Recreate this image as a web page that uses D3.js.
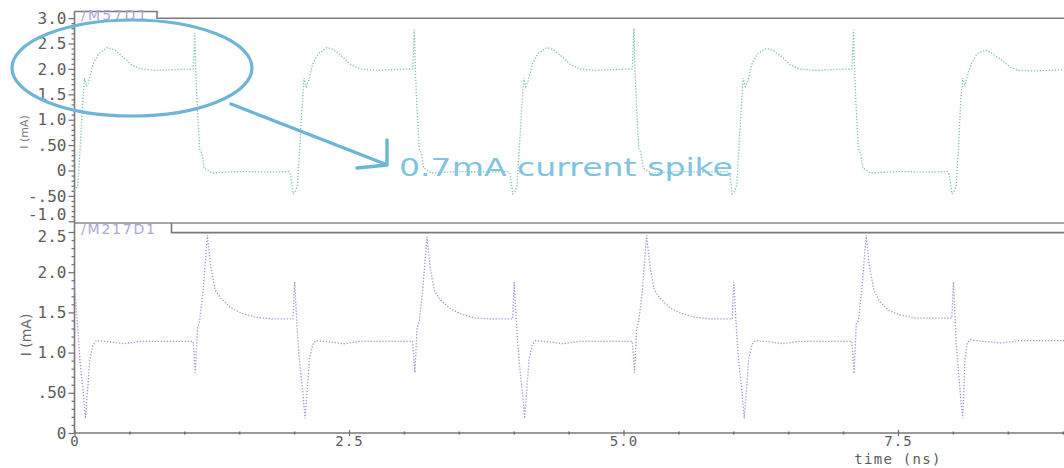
<!DOCTYPE html>
<html>
<head>
<meta charset="utf-8">
<script src="https://cdn.jsdelivr.net/npm/d3@7"></script>
<style>
  html, body { margin: 0; padding: 0; background: #ffffff; }
  svg { display: block; }
  .tick text { font-family: "DejaVu Sans Mono", monospace; }
</style>
</head>
<body>
<svg id="chart" width="1064" height="468"></svg>
<script>
// ---- Transient simulation: drain currents of M57 and M217 (mA vs ns) ----

// Panel names
const panelNames = ["/M57D1", "/M217D1"];

// M57 drain current
const m57Time = [
  0.00, 0.03, 0.05, 0.07, 0.09, 0.11, 0.13, 0.17, 0.22, 0.30, 0.36, 0.44, 0.52, 0.60, 0.75, 0.95, 1.08, 1.095, 1.105, 1.12, 1.14, 1.16, 1.18, 1.25, 1.50, 1.80, 1.95, 1.97, 1.99,
  2.01, 2.03, 2.05, 2.07, 2.09, 2.11, 2.13, 2.17, 2.22, 2.30, 2.36, 2.44, 2.52, 2.60, 2.75, 2.95, 3.08, 3.095, 3.105, 3.12, 3.14, 3.16, 3.18, 3.25, 3.50, 3.80, 3.95, 3.97, 3.99,
  4.01, 4.03, 4.05, 4.07, 4.09, 4.11, 4.13, 4.17, 4.22, 4.30, 4.36, 4.44, 4.52, 4.60, 4.75, 4.95, 5.08, 5.095, 5.105, 5.12, 5.14, 5.16, 5.18, 5.25, 5.50, 5.80, 5.95, 5.97, 5.99,
  6.01, 6.03, 6.05, 6.07, 6.09, 6.11, 6.13, 6.17, 6.22, 6.30, 6.36, 6.44, 6.52, 6.60, 6.75, 6.95, 7.08, 7.095, 7.105, 7.12, 7.14, 7.16, 7.18, 7.25, 7.50, 7.80, 7.95, 7.97, 7.99,
  8.01, 8.03, 8.05, 8.07, 8.09, 8.11, 8.13, 8.17, 8.22, 8.30, 8.36, 8.44, 8.52, 8.60, 8.75, 8.95, 9.02
];
const m57Current = [
  -0.40, -0.30, 0.40, 1.15, 1.82, 1.65, 1.75, 2.10, 2.30, 2.42, 2.38, 2.24, 2.08, 2.00, 1.97, 1.99, 2.00, 2.71, 1.90, 1.20, 0.42, 0.34, 0.05, -0.05, -0.02, -0.03, -0.02, -0.10, -0.46,
  -0.42, -0.30, 0.40, 1.15, 1.82, 1.65, 1.75, 2.10, 2.30, 2.42, 2.38, 2.24, 2.08, 2.00, 1.97, 1.99, 2.00, 2.77, 1.90, 1.20, 0.42, 0.34, 0.05, -0.05, -0.02, -0.03, -0.02, -0.10, -0.46,
  -0.42, -0.30, 0.40, 1.15, 1.82, 1.65, 1.75, 2.10, 2.30, 2.42, 2.38, 2.24, 2.08, 2.00, 1.97, 1.99, 2.00, 2.80, 1.90, 1.20, 0.42, 0.34, 0.05, -0.05, -0.02, -0.03, -0.02, -0.10, -0.46,
  -0.42, -0.30, 0.40, 1.15, 1.82, 1.65, 1.75, 2.10, 2.30, 2.40, 2.37, 2.24, 2.08, 2.00, 1.97, 1.99, 2.00, 2.77, 1.90, 1.20, 0.42, 0.34, 0.05, -0.05, -0.02, -0.03, -0.02, -0.10, -0.46,
  -0.42, -0.30, 0.40, 1.33, 1.82, 1.65, 1.85, 2.11, 2.30, 2.37, 2.30, 2.18, 2.04, 1.97, 1.96, 1.98, 1.98
];

// M217 drain current
const m217Time = [
  0.00, 0.03, 0.05, 0.08, 0.10, 0.12, 0.14, 0.17, 0.20, 0.35, 0.45, 0.60, 0.90, 1.08, 1.10, 1.12, 1.14, 1.17, 1.21, 1.24, 1.28, 1.33, 1.42, 1.52, 1.65, 1.80, 1.99,
  2.005, 2.03, 2.05, 2.08, 2.10, 2.12, 2.14, 2.17, 2.20, 2.35, 2.45, 2.60, 2.90, 3.08, 3.10, 3.12, 3.14, 3.17, 3.21, 3.24, 3.28, 3.33, 3.42, 3.52, 3.65, 3.80, 3.99,
  4.005, 4.03, 4.05, 4.08, 4.10, 4.12, 4.14, 4.17, 4.20, 4.35, 4.45, 4.60, 4.90, 5.08, 5.10, 5.12, 5.14, 5.17, 5.21, 5.24, 5.28, 5.33, 5.42, 5.52, 5.65, 5.80, 5.99,
  6.005, 6.03, 6.05, 6.08, 6.10, 6.12, 6.14, 6.17, 6.20, 6.35, 6.45, 6.60, 6.90, 7.08, 7.10, 7.12, 7.14, 7.17, 7.21, 7.24, 7.28, 7.33, 7.42, 7.52, 7.65, 7.80, 7.99,
  8.005, 8.03, 8.05, 8.07, 8.09, 8.11, 8.13, 8.16, 8.20, 8.35, 8.45, 8.60, 8.80, 9.02
];
const m217Current = [
  1.85, 1.30, 0.90, 0.50, 0.18, 0.55, 0.92, 1.10, 1.15, 1.13, 1.11, 1.14, 1.14, 1.14, 0.75, 1.30, 1.40, 1.75, 2.46, 2.08, 1.78, 1.68, 1.56, 1.49, 1.44, 1.42, 1.42,
  1.88, 1.25, 0.88, 0.50, 0.18, 0.55, 0.92, 1.10, 1.15, 1.13, 1.11, 1.14, 1.14, 1.14, 0.75, 1.30, 1.40, 1.75, 2.44, 2.05, 1.76, 1.66, 1.55, 1.48, 1.43, 1.42, 1.42,
  1.88, 1.25, 0.88, 0.50, 0.18, 0.55, 0.92, 1.10, 1.15, 1.13, 1.11, 1.14, 1.14, 1.14, 0.75, 1.30, 1.40, 1.75, 2.46, 2.08, 1.78, 1.68, 1.56, 1.49, 1.44, 1.42, 1.42,
  1.88, 1.25, 0.88, 0.50, 0.18, 0.55, 0.92, 1.10, 1.15, 1.13, 1.11, 1.14, 1.14, 1.14, 0.74, 1.36, 1.40, 1.78, 2.46, 2.07, 1.78, 1.64, 1.52, 1.47, 1.43, 1.43, 1.43,
  1.88, 1.12, 0.78, 0.45, 0.18, 0.91, 1.12, 1.16, 1.15, 1.13, 1.12, 1.15, 1.15, 1.15
];

// Axis ticks
const xMajorTicks = [0, 2.5, 5.0, 7.5];
const xMajorLabels = ["0", "2.5", "5.0", "7.5"];
const xMinorTicks = [0.5, 1.0, 1.5, 2.0, 3.0, 3.5, 4.0, 4.5, 5.5, 6.0, 6.5, 7.0, 8.0, 8.5, 9.0];
const topTicks = [3.0, 2.5, 2.0, 1.5, 1.0, 0.5, 0, -0.5, -1.0];
const topTickLabels = ["3.0", "2.5", "2.0", "1.5", "1.0", ".50", "0", "-.50", "-1.0"];
const bottomTicks = [2.5, 2.0, 1.5, 1.0, 0.5, 0];
const bottomTickLabels = ["2.5", "2.0", "1.5", "1.0", ".50", "0"];

// Annotation
const calloutText = "0.7mA current spike";

// ---- drawing ----
const svg = d3.select("#chart");
const axisColor = "#6f6f6f";
const labelColor = "#5c5c5c";
const calloutColor = "#6db5d6";

const x = d3.scaleLinear().domain([0, 9.02]).range([74.5, 1064.9]);
const yTop = d3.scaleLinear().domain([-1, 3]).range([221.3, 18.1]);
const yBot = d3.scaleLinear().domain([0, 2.5]).range([433, 232]);

// frame lines and name tabs
svg.append("path")
  .attr("d", "M74.5,223 V11.5 H157 V18.2 H1064")
  .attr("fill", "none").attr("stroke", "#7a7a7a").attr("stroke-width", 1.6);
svg.append("path")
  .attr("d", "M74.5,223 H1064")
  .attr("fill", "none").attr("stroke", "#8a8a8a").attr("stroke-width", 1.4);
svg.append("path")
  .attr("d", "M74.5,223 V433 M171.5,223 V232.6 H1064")
  .attr("fill", "none").attr("stroke", "#7a7a7a").attr("stroke-width", 1.6);

svg.append("text").attr("x", 81).attr("y", 20).text(panelNames[0])
  .attr("font-family", "DejaVu Sans").attr("font-size", 14)
  .attr("fill", "#a8a8d8").attr("letter-spacing", 2.2);
svg.append("text").attr("x", 81).attr("y", 234).text(panelNames[1])
  .attr("font-family", "DejaVu Sans").attr("font-size", 14)
  .attr("fill", "#a8a8d8").attr("letter-spacing", 1.8);

function styleAxis(g, size, spacing) {
  g.select(".domain").remove();
  g.selectAll(".tick line").attr("stroke", axisColor).attr("stroke-width", 1.2);
  g.selectAll(".tick text").attr("fill", labelColor).attr("font-size", size || 14)
    .attr("letter-spacing", spacing || 0);
}

// y axes (major labelled ticks + 0.1 mA minor ticks)
function yAxes(scale, ticks, labels, lo, hi) {
  const majors = svg.append("g").attr("transform", "translate(74.5,0)")
    .call(d3.axisLeft(scale).tickValues(ticks).tickSize(6).tickPadding(2)
      .tickFormat((d, i) => labels[i]));
  styleAxis(majors, 16, 0);
  const minorVals = d3.range(Math.round(lo * 10), Math.round(hi * 10) + 1).map(v => v / 10)
    .filter(v => Math.abs(v * 2 - Math.round(v * 2)) > 1e-6);
  const minors = svg.append("g").attr("transform", "translate(74.5,0)")
    .call(d3.axisLeft(scale).tickValues(minorVals).tickSize(3).tickFormat(""));
  styleAxis(minors);
  return majors;
}
const topAxis = yAxes(yTop, topTicks, topTickLabels, -1, 3);
const botAxis = yAxes(yBot, bottomTicks, bottomTickLabels, 0, 2.5);
// the two labels that meet at the panel seam sit a little apart
topAxis.selectAll(".tick text").filter(d => d === -1).attr("dy", "-0.1em");
botAxis.selectAll(".tick text").filter(d => d === 2.5).attr("dy", "0.62em");

// x axis
svg.append("line").attr("x1", 74.5).attr("x2", 1064).attr("y1", 433).attr("y2", 433)
  .attr("stroke", "#7a7a7a").attr("stroke-width", 1.4);
const xMaj = svg.append("g").attr("transform", "translate(0,433)")
  .call(d3.axisBottom(x).tickValues(xMajorTicks).tickSize(3).tickPadding(0)
    .tickFormat((d, i) => xMajorLabels[i]));
styleAxis(xMaj, 14, 1);
xMaj.selectAll(".tick line").attr("y1", -3);
const xMin = svg.append("g").attr("transform", "translate(0,433)")
  .call(d3.axisBottom(x).tickValues(xMinorTicks).tickSize(1.5).tickFormat(""));
styleAxis(xMin);
xMin.selectAll(".tick line").attr("y1", -1.5).attr("stroke-width", 1.6);

svg.append("text").attr("x", x(7.5)).attr("y", 464).attr("text-anchor", "middle")
  .text("time (ns)").attr("font-family", "DejaVu Sans Mono").attr("font-size", 14)
  .attr("letter-spacing", 1.3).attr("fill", labelColor);

// y axis titles
svg.append("text").attr("transform", "translate(28,132) rotate(-90)")
  .attr("text-anchor", "middle").text("I (mA)")
  .attr("font-family", "DejaVu Sans").attr("font-size", 11).attr("fill", "#7a7a7a");
svg.append("text").attr("transform", "translate(31,335) rotate(-90)")
  .attr("text-anchor", "middle").text("I (mA)")
  .attr("font-family", "DejaVu Sans").attr("font-size", 14).attr("fill", "#6a6a6a");

// waveforms (dotted sample traces)
const topData = m57Time.map((t, i) => ({ t, v: m57Current[i] }));
const botData = m217Time.map((t, i) => ({ t, v: m217Current[i] }));

svg.append("path").datum(topData)
  .attr("d", d3.line().x(d => x(d.t)).y(d => yTop(d.v)))
  .attr("fill", "none").attr("stroke", "#7fc6a4").attr("stroke-width", 1.3)
  .attr("stroke-dasharray", "1.3 1.7");
svg.append("path").datum(botData)
  .attr("d", d3.line().x(d => x(d.t)).y(d => yBot(d.v)))
  .attr("fill", "none").attr("stroke", "#9a9ada").attr("stroke-width", 1.3)
  .attr("stroke-dasharray", "1.3 1.7");

// callout: ellipse around the first pulse, arrow and caption
svg.append("ellipse").attr("cx", 132).attr("cy", 68).attr("rx", 120).attr("ry", 48)
  .attr("fill", "none").attr("stroke", calloutColor).attr("stroke-width", 3.2);
svg.append("path").attr("d", "M231,104 L385,164")
  .attr("fill", "none").attr("stroke", calloutColor).attr("stroke-width", 3.4)
  .attr("stroke-linecap", "round");
svg.append("path").attr("d", "M387,140 L387,165 L357,168")
  .attr("fill", "none").attr("stroke", calloutColor).attr("stroke-width", 3.4)
  .attr("stroke-linecap", "round").attr("stroke-linejoin", "round");
svg.append("text").attr("x", 399).attr("y", 176).text(calloutText)
  .attr("font-family", "DejaVu Sans").attr("font-size", 25)
  .attr("textLength", 334).attr("lengthAdjust", "spacingAndGlyphs")
  .attr("fill", "#80c4e2");
</script>
</body>
</html>
